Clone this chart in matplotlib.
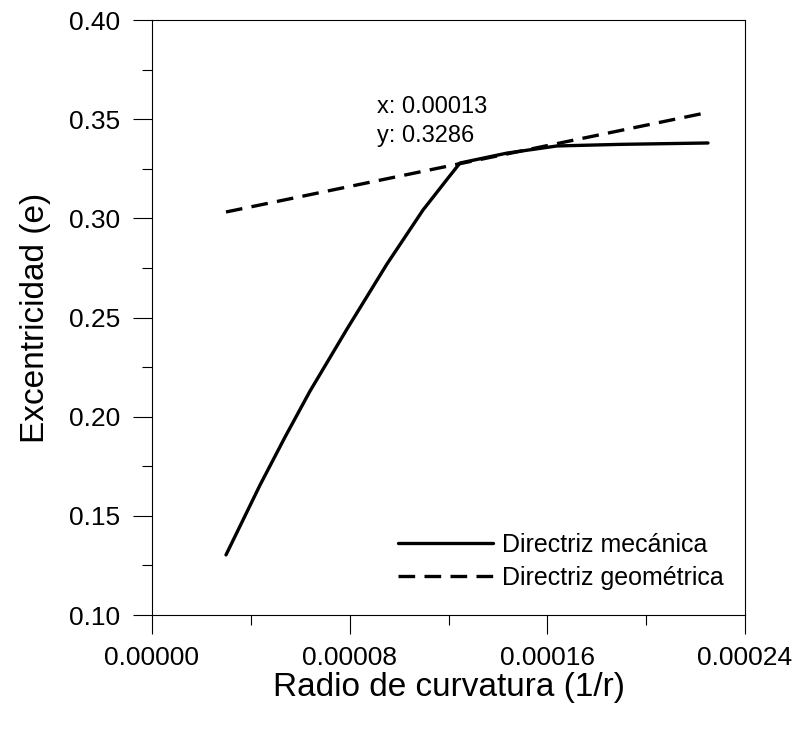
import matplotlib
matplotlib.use("Agg")
import matplotlib.pyplot as plt
from matplotlib.ticker import MultipleLocator, FormatStrFormatter

plt.rcParams['font.family'] = ['Liberation Sans', 'DejaVu Sans']

# Directriz mecánica
mec_x = [2.995e-5, 4.371e-5, 5.383e-5, 6.395e-5, 7.892e-5, 9.511e-5, 1.0968e-4, 1.198e-4,
         1.2465e-4, 1.4368e-4, 1.639e-4, 1.894e-4, 2.250e-4]
mec_y = [0.1303, 0.1655, 0.1897, 0.2129, 0.2442, 0.2770, 0.3042, 0.3203,
         0.3279, 0.3329, 0.3365, 0.3373, 0.3380]
# Directriz geométrica
geo_x = [2.995e-5, 2.226e-4]
geo_y = [0.3032, 0.3528]

x_ticks = [0.0, 0.00008, 0.00016, 0.00024]
y_ticks = [0.10, 0.15, 0.20, 0.25, 0.30, 0.35, 0.40]

fig = plt.figure(figsize=(7.97, 7.36), dpi=100)
ax = fig.add_axes([0.1907, 0.1644, 0.7441, 0.8084])

ax.plot(mec_x, mec_y, color='black', lw=2.4, solid_capstyle='round',
        solid_joinstyle='round', label='Directriz mecánica')
ax.plot(geo_x, geo_y, color='black', lw=2.4, dashes=(5, 2.8), label='Directriz geométrica')

ax.set_xlim(0, 0.00024)
ax.set_ylim(0.10, 0.40)
ax.set_xticks(x_ticks)
ax.set_yticks(y_ticks)
ax.xaxis.set_major_formatter(FormatStrFormatter('%.5f'))
ax.yaxis.set_major_formatter(FormatStrFormatter('%.2f'))
ax.xaxis.set_minor_locator(MultipleLocator(0.00004))
ax.yaxis.set_minor_locator(MultipleLocator(0.025))
ax.tick_params(which='major', direction='out', length=14, width=0.8, labelsize=19)
ax.tick_params(axis='x', which='major', pad=8)
ax.tick_params(axis='y', which='major', pad=9)
ax.tick_params(which='minor', direction='out', length=7, width=0.8)
for s in ax.spines.values():
    s.set_linewidth(0.8)

ax.set_xlabel('Radio de curvatura (1/r)', fontsize=24, labelpad=2)
ax.set_ylabel('Excentricidad (e)', fontsize=24, labelpad=13)

ax.text(9.1e-5, 0.3490, 'x: 0.00013\ny: 0.3286', fontsize=17, va='center', ha='left', linespacing=1.4)

ax.legend(loc='center left', frameon=False, fontsize=18, handlelength=3.8,
          bbox_to_anchor=(0.415, 0.0899), borderpad=0, borderaxespad=0,
          handletextpad=0.36, labelspacing=0.36)

fig.savefig('out.png', dpi=100)
